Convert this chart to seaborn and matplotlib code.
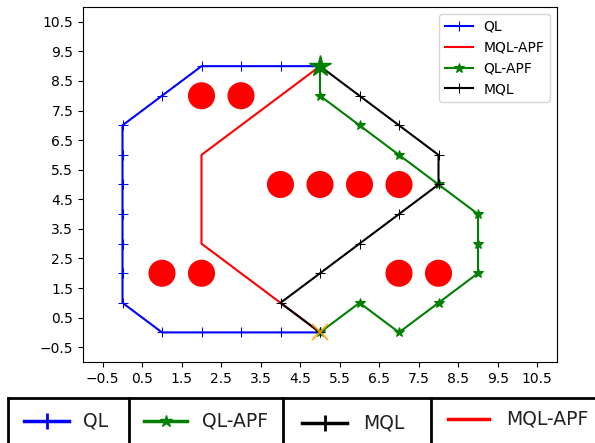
import matplotlib
matplotlib.use("Agg")
import matplotlib.pyplot as plt
import seaborn as sns
import pandas as pd
import numpy as np

# Paths
ql_x = [5, 4, 3, 2, 1, 0, 0, 0, 0, 0, 0, 0, 1, 2, 3, 4, 5]
ql_y = [0, 0, 0, 0, 0, 1, 2, 3, 4, 5, 6, 7, 8, 9, 9, 9, 9]
mqlapf_x = [5, 4, 2, 2, 5]
mqlapf_y = [0, 1, 3, 6, 9]
qlapf_x = [5, 6, 7, 8, 9, 9, 9, 8, 7, 6, 5, 5]
qlapf_y = [0, 1, 0, 1, 2, 3, 4, 5, 6, 7, 8, 9]
mql_x = [5, 4, 5, 6, 7, 8, 8, 7, 6, 5]
mql_y = [0, 1, 2, 3, 4, 5, 6, 7, 8, 9]

obst_x = [2, 3, 4, 5, 6, 7, 1, 2, 7, 8]
obst_y = [8, 8, 5, 5, 5, 5, 2, 2, 2, 2]

start = (5, 0)
goal = (5, 9)

ticks = [-0.5, 0.5, 1.5, 2.5, 3.5, 4.5, 5.5, 6.5, 7.5, 8.5, 9.5, 10.5]

W, H = 595, 443
fig = plt.figure(figsize=(W / 100, H / 100), dpi=100)
ax = fig.add_axes([83 / W, 1 - 362 / H, (557 - 83) / W, (362 - 7) / H])

sns.scatterplot(x=obst_x, y=obst_y, color="red", s=380, edgecolor="none", ax=ax, zorder=1)

series = [
    ("QL", ql_x, ql_y, "blue", "+", 7),
    ("MQL-APF", mqlapf_x, mqlapf_y, "red", None, 0),
    ("QL-APF", qlapf_x, qlapf_y, "green", "*", 7),
    ("MQL", mql_x, mql_y, "black", "+", 7),
]
for name, xs, ys, col, mk, ms in series:
    df = pd.DataFrame({"x": xs, "y": ys})
    kw = {}
    if mk:
        kw = dict(marker=mk, markersize=ms, markeredgecolor=col, markerfacecolor=col)
    sns.lineplot(data=df, x="x", y="y", sort=False, estimator=None, color=col,
                 linewidth=1.5, label=name, ax=ax, zorder=2, **kw)

ax.plot([goal[0]], [goal[1]], marker="*", color="green", markersize=16, linestyle="none", zorder=3)
ax.plot([start[0]], [start[1]], marker="x", color="orange", markersize=11, markeredgewidth=1.5,
        linestyle="none", alpha=0.8, zorder=3)

ax.set_xlim(-1, 11)
ax.set_ylim(-1, 11)
ax.set_xticks(ticks)
ax.set_yticks(ticks)
ax.set_xticklabels([f"{t:g}".replace("-", "\u2212") for t in ticks])
ax.set_yticklabels([f"{t:g}".replace("-", "\u2212") for t in ticks])
ax.set_xlabel("")
ax.set_ylabel("")
ax.tick_params(labelsize=10)
ax.legend(loc="upper right", fontsize=10)

# Bottom legend table
lax = fig.add_axes([0, 0, 1, 1])
lax.set_xlim(0, W)
lax.set_ylim(H, 0)
lax.axis("off")
lax.plot([8, W], [398, 398], color="black", lw=2)
for xv in [8, 129, 283, 431]:
    lax.plot([xv, xv], [398, H], color="black", lw=2)

entries = [
    ("QL", "blue", "+", 24, 69, 421, 83),
    ("QL-APF", "green", "*", 144, 187, 421, 202),
    ("MQL", "black", "+", 302, 347, 423, 363),
    ("MQL-APF", "red", None, 448, 489, 419, 506),
]
for name, col, mk, x0, x1, yv, tx in entries:
    lax.plot([x0, x1], [yv, yv], color=col, lw=2.5)
    if mk:
        lax.plot([(x0 + x1) / 2], [yv], marker=mk, color=col, markersize=11 if mk == "+" else 9,
                 markeredgewidth=2 if mk == "+" else 1)
    lax.text(tx, yv, name, fontsize=13.5, va="center", ha="left", color="#222222")

fig.savefig("out.png", dpi=100)
